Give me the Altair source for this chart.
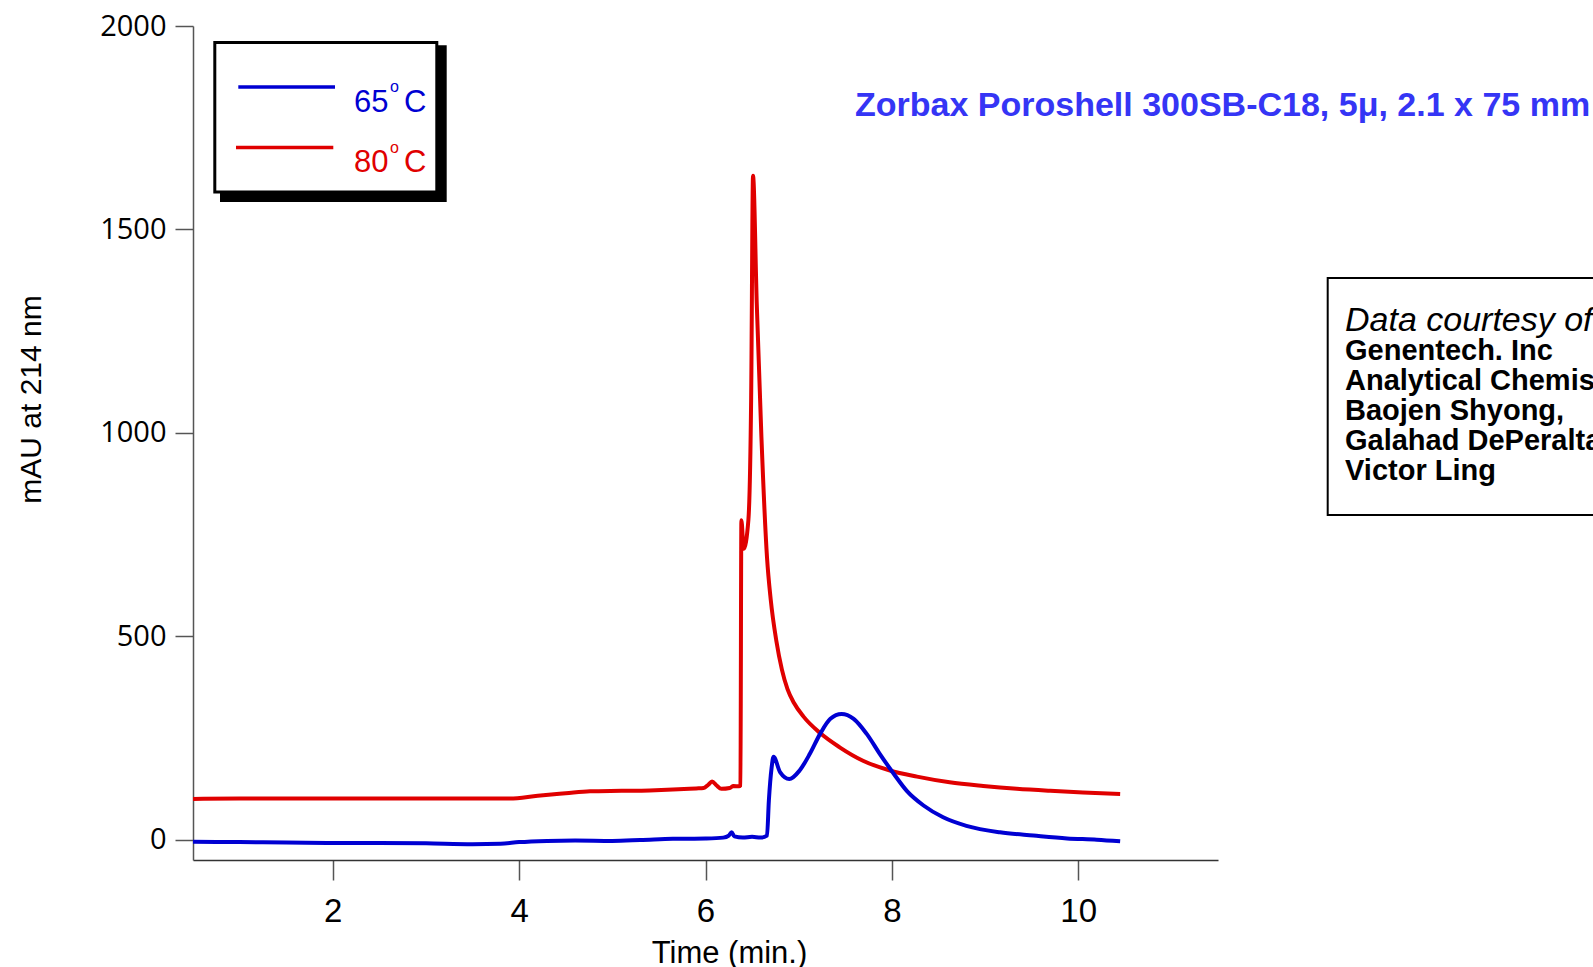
import altair as alt
import pandas as pd

# ---- data ----
t65 = [0.5, 1.0, 1.5, 2.0, 2.5, 3.0, 3.5, 3.8, 4.0, 4.3, 4.6, 5.0, 5.3, 5.65, 6.0, 6.19, 6.25, 6.28,
       6.31, 6.4, 6.5, 6.59, 6.66, 6.68, 6.71, 6.73, 6.80, 6.90, 7.01, 7.12, 7.23, 7.34, 7.46, 7.59,
       7.73, 7.87, 8.02, 8.16, 8.34, 8.55, 8.80, 9.16, 9.52, 9.88, 10.2, 10.45]
a65 = [-5, -6, -7, -8, -8, -9, -11, -10, -6, -3, -2, -3, -1, 2, 3, 5, 10, 18,
       8, 5, 7, 5, 10, 96, 178, 204, 166, 149, 170, 211, 260, 297, 309, 297,
       260, 211, 162, 120, 84, 55, 34, 18, 10, 3, 0, -4]

t80 = [0.5, 1.0, 2.0, 3.0, 3.9, 4.2, 4.5, 4.76, 5.1, 5.4, 5.65, 5.9, 5.98, 6.03, 6.07, 6.12, 6.17,
       6.26, 6.30, 6.36, 6.375, 6.385, 6.41, 6.46, 6.49, 6.51, 6.55, 6.60, 6.66, 6.70, 6.76,
       6.82, 6.88, 6.95, 7.05, 7.23, 7.44, 7.69, 7.98, 8.27, 8.62, 8.98, 9.34, 9.70, 10.05, 10.45]
a80 = [100, 101, 101, 101, 101, 108, 114, 119, 120, 121, 123, 126, 127, 135, 143, 133, 125,
       127, 132, 131, 133, 785, 715, 785, 1087, 1632, 1318, 990, 694, 590, 489,
       418, 370, 336, 303, 262, 227, 194, 170, 155, 141, 132, 125, 120, 116, 112]

series_names = ["80°C", "65°C"]
series_colors = ["#e00000", "#0000d2"]
x_ticks = [2, 4, 6, 8, 10]
y_ticks = [0, 500, 1000, 1500, 2000]

title_text = "Zorbax Poroshell 300SB-C18, 5\u03bc, 2.1 x 75 mm"
credit_head = "Data courtesy of"
credit_lines = ["Genentech. Inc", "Analytical Chemistry", "Baojen Shyong,", "Galahad DePeralta", "Victor Ling"]

NARROW = "Liberation Sans, Arial, sans-serif"
WIDE = "Open Sans, DejaVu Sans, sans-serif"

df = pd.concat([
    pd.DataFrame({"time": t80, "mAU": a80, "series": "80°C", "idx": range(len(t80))}),
    pd.DataFrame({"time": t65, "mAU": a65, "series": "65°C", "idx": range(len(t65))}),
])

W, H = 1025, 834

lines = alt.Chart(df).mark_line(strokeWidth=4, strokeJoin="round", interpolate="monotone").encode(
    x=alt.X("time:Q",
            scale=alt.Scale(domain=[0.5, 11.5], nice=False, zero=False),
            axis=alt.Axis(values=x_ticks, grid=False, tickSize=20, labelPadding=15,
                          labelFont=NARROW, labelFontSize=33, labelColor="black",
                          domainColor="#333", domainWidth=1.5, tickColor="#555", tickWidth=1.5,
                          title="Time (min.)", titleFont=NARROW, titleFontSize=31,
                          titleFontWeight="normal", titleColor="black",
                          titleX=536, titleY=102, titleAlign="center", titleBaseline="alphabetic")),
    y=alt.Y("mAU:Q",
            scale=alt.Scale(domain=[-50, 2000], nice=False, zero=False),
            axis=alt.Axis(values=y_ticks, grid=False, tickSize=18, labelPadding=9, format="d",
                          labelFont=WIDE, labelFontSize=29, labelColor="black",
                          domainColor="#555", domainWidth=1.5, tickColor="#555", tickWidth=1.5,
                          title="mAU at 214 nm", titleFont=NARROW, titleFontSize=30,
                          titleFontWeight="normal", titleColor="black",
                          titleX=-162, titleY=373, titleAlign="center", titleBaseline="middle",
                          titleAngle=270)),
    color=alt.Color("series:N", scale=alt.Scale(domain=series_names, range=series_colors), legend=None),
    order="idx:Q",
)

one = pd.DataFrame({"k": [0]})
base = alt.Chart(one)

# legend box with shadow
shadow = base.mark_rect(color="black").encode(
    x=alt.value(27), x2=alt.value(253.7), y=alt.value(19.3), y2=alt.value(176))
box = base.mark_rect(fill="white", stroke="black", strokeWidth=3).encode(
    x=alt.value(21.8), x2=alt.value(243.8), y=alt.value(16.5), y2=alt.value(166))
leg_blue = base.mark_rule(color=series_colors[1], strokeWidth=3.5).encode(
    x=alt.value(45.3), x2=alt.value(142), y=alt.value(61))
leg_red = base.mark_rule(color=series_colors[0], strokeWidth=3.5).encode(
    x=alt.value(43), x2=alt.value(140.3), y=alt.value(121.6))

def txt(s, x, y, size, color="black", font=NARROW, weight="normal", style="normal", align="left"):
    return base.mark_text(text=s, align=align, baseline="alphabetic", font=font, fontSize=size,
                          fontWeight=weight, fontStyle=style, color=color).encode(
        x=alt.value(x), y=alt.value(y))

leg_texts = [
    txt("65", 161, 86, 31, series_colors[1]),
    txt("o", 197, 66, 16, series_colors[1]),
    txt("C", 211, 86, 31, series_colors[1]),
    txt("80", 161, 146, 31, series_colors[0]),
    txt("o", 197, 127, 16, series_colors[0]),
    txt("C", 211, 146, 31, series_colors[0]),
]

title = txt(title_text, 662, 90, 34, "#3535f5", weight="bold")

credit_box = base.mark_rect(fill="white", stroke="black", strokeWidth=2).encode(
    x=alt.value(1134.7), x2=alt.value(1500), y=alt.value(252), y2=alt.value(489))
credit = [txt(credit_head, 1152, 305, 34, style="italic")]
for i, s in enumerate(credit_lines):
    credit.append(txt(s, 1152, 334.3 + 30 * i, 29, weight="bold"))

chart = alt.layer(
    lines, shadow, box, leg_blue, leg_red, *leg_texts, title, credit_box, *credit
).properties(
    width=W, height=H,
    autosize=alt.AutoSizeParams(type="none"),
    padding={"left": 193, "top": 26, "right": 1593 - 193 - W, "bottom": 967 - 26 - H},
).configure_view(strokeWidth=0)

chart.save("out.html", embed_options={"renderer": "svg", "actions": False})
